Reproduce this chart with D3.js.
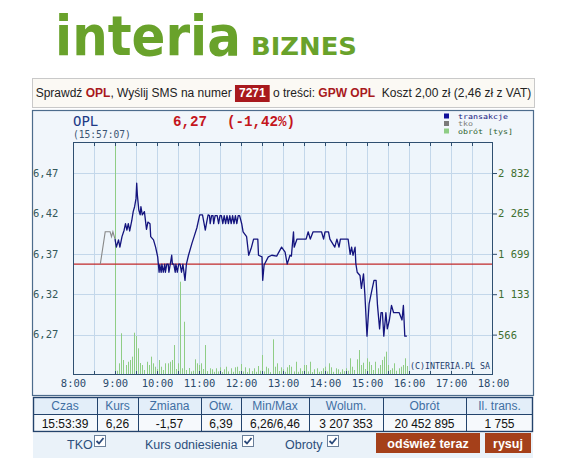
<!DOCTYPE html>
<html><head><meta charset="utf-8">
<script src="https://cdn.jsdelivr.net/npm/d3@7"></script>
<style>
body{margin:0;background:#fff;}
svg{display:block;}
</style>
</head><body>
<svg id="c" width="569" height="458"></svg>
<script>
// ---------- DATA ----------
const ticker = "OPL";
const lastTime = "(15:57:07)";
const lastPrice = "6,27";
const lastChange = "(-1,42%)";
const refPrice = 6.36;

const tkoTimes  = ["8:39","8:46","8:53","8:55","8:57","9:00"];
const tkoValues = [6.36, 6.40, 6.40, 6.394, 6.40, 6.391];

const priceTimes = ["9:00","9:02","9:05","9:07","9:10","9:13","9:15","9:17","9:19","9:21","9:24","9:26","9:28","9:30","9:31","9:32","9:34","9:36","9:37","9:39","9:42","9:45","9:47","9:50","9:51","9:55","9:58","10:01","10:03","10:04","10:06","10:07","10:09","10:11","10:12","10:14","10:16","10:17","10:19","10:21","10:22","10:24","10:26","10:27","10:29","10:31","10:33","10:35","10:37","10:40","10:42","10:45","10:50","10:53","10:57","11:01","11:05","11:09","11:11","11:13","11:15","11:16","11:18","11:20","11:21","11:23","11:26","11:28","11:30","11:32","11:34","11:36","11:38","11:40","11:42","11:44","11:46","11:48","11:50","11:52","11:54","11:56","11:58","12:01","12:03","12:08","12:11","12:15","12:18","12:24","12:25","12:30","12:31","12:33","12:39","12:44","12:51","12:58","13:03","13:06","13:10","13:12","13:15","13:16","13:20","13:33","13:36","13:39","13:43","13:55","13:58","14:00","14:05","14:07","14:14","14:17","14:20","14:22","14:33","14:36","14:38","14:40","14:43","14:44","14:46","14:50","14:52","14:55","14:57","15:00","15:03","15:07","15:10","15:13","15:15","15:18","15:20","15:22","15:24","15:27","15:29","15:32","15:35","15:38","15:46","15:50","15:52","15:54","15:57"];
const priceValues = [6.391,6.381,6.390,6.381,6.394,6.402,6.410,6.402,6.410,6.401,6.414,6.425,6.431,6.441,6.460,6.445,6.427,6.421,6.431,6.421,6.425,6.403,6.412,6.410,6.394,6.390,6.381,6.369,6.350,6.359,6.35,6.36,6.35,6.36,6.35,6.36,6.36,6.35,6.36,6.371,6.36,6.36,6.35,6.36,6.35,6.36,6.36,6.35,6.36,6.340,6.36,6.371,6.386,6.394,6.405,6.421,6.421,6.402,6.412,6.421,6.42,6.41,6.42,6.42,6.41,6.42,6.42,6.41,6.42,6.42,6.41,6.42,6.41,6.42,6.41,6.42,6.41,6.42,6.41,6.42,6.41,6.42,6.42,6.410,6.400,6.394,6.371,6.381,6.391,6.391,6.371,6.369,6.340,6.359,6.369,6.371,6.370,6.381,6.375,6.36,6.371,6.370,6.400,6.381,6.391,6.391,6.400,6.391,6.400,6.400,6.391,6.400,6.400,6.391,6.381,6.391,6.381,6.391,6.391,6.372,6.381,6.371,6.381,6.361,6.350,6.346,6.330,6.348,6.322,6.271,6.311,6.328,6.340,6.340,6.309,6.280,6.300,6.300,6.271,6.300,6.280,6.291,6.309,6.300,6.300,6.291,6.309,6.271,6.271];

// turnover [tys] per 3-minute slot from 9:00
const volStart = "9:00";
const volStepMin = 3;
const volValues = [3300,60,164,585,210,140,186,210,257,593,547,374,168,140,70,186,140,257,164,116,84,210,116,70,164,164,186,210,420,84,164,1308,94,747,70,98,50,60,220,164,140,164,84,420,55,94,80,45,94,50,108,40,80,116,50,94,45,108,116,55,154,50,108,40,94,55,94,45,126,60,280,50,116,94,40,500,116,164,55,108,80,45,108,140,116,50,186,45,94,55,140,140,50,186,40,80,94,45,55,94,116,50,164,108,45,94,80,40,80,55,94,60,234,116,70,220,350,140,172,84,234,186,140,70,186,94,140,210,257,327,140,70,94,164,60,94,116,140,234,126];

const priceTicks = [6.273, 6.323, 6.373, 6.423, 6.473];
const volTicks = [566, 1133, 1699, 2265, 2832];
const timeDomain = ["8:00", "18:00"];
const priceDomain = [6.223, 6.511];
const volDomain = [0, 3267];

const legendLabels = ["transakcje", "tko", "obrót [tys]"];
const tableHeaders = ["Czas","Kurs","Zmiana","Otw.","Min/Max","Wolum.","Obrót","Il. trans."];
const tableValues  = ["15:53:39","6,26","-1,57","6,39","6,26/6,46","3 207 353","20 452 895","1 755"];
const controlLabels = ["TKO","Kurs odniesienia","Obroty"];
const buttonLabels = ["odśwież teraz","rysuj"];

// ---------- DRAW ----------
const svg = d3.select("#c");
const parse = d3.timeParse("%H:%M");
const sans = "'Liberation Sans', Arial, sans-serif";
const mono = "'DejaVu Sans Mono', monospace";

// Logo (fit width via font size, stretch height via transform)
function logoText(str, x0, y0, targetW, targetSize){
  const t = svg.append("text").attr("font-family","'DejaVu Sans', sans-serif").attr("font-weight","bold")
    .attr("font-size",targetSize).attr("fill","#69a22b").text(str);
  const w = t.node().getComputedTextLength();
  const fs = targetSize*targetW/w;
  t.attr("font-size",fs).attr("transform",`translate(${x0},${y0}) scale(1,${targetSize/fs})`);
}
logoText("interia", 55, 55, 186, 56);
logoText("BIZNES", 251, 55, 106, 25);

// SMS bar
svg.append("rect").attr("x",32.5).attr("y",78.5).attr("width",502).attr("height",29)
  .attr("fill","#fbf9f4").attr("stroke","#c9c9c9");
const smsParts = [
  {t:"Sprawdź ", c:"#222", b:false},
  {t:"OPL", c:"#a8191d", b:true},
  {t:", Wyślij SMS na numer ", c:"#222", b:false},
  {t:"7271", c:"#fff", b:true, box:true},
  {t:" o treści: ", c:"#222", b:false},
  {t:"GPW OPL", c:"#a8191d", b:true},
  {t:"  Koszt 2,00 zł (2,46 zł z VAT)", c:"#222", b:false}
];
const smsG = svg.append("g");
let sx = 0;
const smsNodes = smsParts.map(p => {
  const pad = p.box ? 4 : 0;
  const t = smsG.append("text").attr("y",97).attr("font-family",sans).attr("font-size",12)
    .attr("font-weight", p.b ? "bold" : "normal").attr("fill",p.c)
    .attr("xml:space","preserve").style("white-space","pre").text(p.t);
  const w = t.node().getComputedTextLength();
  t.attr("x", sx + pad);
  const r = {x:sx, w:w+2*pad, box:p.box};
  sx += w + 2*pad;
  return r;
});
smsG.attr("transform",`translate(${283.5 - sx/2},0)`);
smsNodes.filter(n=>n.box).forEach(n=>{
  smsG.insert("rect","text").attr("x",n.x).attr("y",85).attr("width",n.w).attr("height",17).attr("fill","#a8191d");
});

// Chart panel
svg.append("rect").attr("x",32.5).attr("y",110.5).attr("width",501).attr("height",285)
  .attr("fill","#f1f6fb").attr("stroke","#4d6c8c").attr("stroke-width",1.2);

const x = d3.scaleTime().domain(timeDomain.map(parse)).range([73,493]);
const yP = d3.scaleLinear().domain(priceDomain).range([375,142]);
const yV = d3.scaleLinear().domain(volDomain).range([375,142]);

const plot = svg.append("g");
plot.append("rect").attr("x",73).attr("y",142).attr("width",420).attr("height",233).attr("fill","#eef5fb");

const halfHours = d3.timeMinute.every(30).range(parse("8:00"), d3.timeMinute.offset(parse("18:00"),1));
plot.append("g").selectAll("line").data(halfHours.slice(1,-1)).join("line")
  .attr("x1",d=>x(d)+0.5).attr("x2",d=>x(d)+0.5).attr("y1",142).attr("y2",375)
  .attr("stroke","#c3d7ea").attr("stroke-width",1);
plot.append("g").selectAll("line").data(volTicks).join("line")
  .attr("x1",73).attr("x2",493).attr("y1",d=>Math.round(yV(d))+0.5).attr("y2",d=>Math.round(yV(d))+0.5)
  .attr("stroke","#c3d7ea").attr("stroke-width",1);

svg.append("clipPath").attr("id","clip").append("rect").attr("x",73).attr("y",142).attr("width",420).attr("height",233);
const inner = plot.append("g").attr("clip-path","url(#clip)");

// volume bars
const volData = volValues.map((v,i)=>({t:d3.timeMinute.offset(parse(volStart), i*volStepMin), v}));
inner.append("g").selectAll("line").data(volData).join("line")
  .attr("x1",d=>Math.round(x(d.t))+0.5).attr("x2",d=>Math.round(x(d.t))+0.5)
  .attr("y1",yV(0)-1).attr("y2",d=>yV(d.v))
  .attr("stroke","#8fcd85").attr("stroke-width",1);

// reference line
inner.append("line").attr("x1",73).attr("x2",493).attr("y1",yP(refPrice)).attr("y2",yP(refPrice))
  .attr("stroke","#c0282a").attr("stroke-width",1.3);

const line = d3.line().x(d=>x(d.t)).y(d=>yP(d.v));
inner.append("path").datum(tkoTimes.map((t,i)=>({t:parse(t), v:tkoValues[i]})))
  .attr("d",line).attr("fill","none").attr("stroke","#888").attr("stroke-width",1.1);
inner.append("path").datum(priceTimes.map((t,i)=>({t:parse(t), v:priceValues[i]})))
  .attr("d",line).attr("fill","none").attr("stroke","#14147e").attr("stroke-width",1.3)
  .attr("stroke-linejoin","round");

// plot frame + ticks
plot.append("rect").attr("x",73.5).attr("y",142.5).attr("width",419).attr("height",232)
  .attr("fill","none").attr("stroke","#2f4f70").attr("stroke-width",1);
plot.append("g").selectAll("line").data(halfHours.slice(1,-1)).join("line")
  .attr("x1",d=>x(d)+0.5).attr("x2",d=>x(d)+0.5).attr("y1",142).attr("y2",146)
  .attr("stroke","#2f4f70");
plot.append("g").selectAll("line").data(halfHours.slice(1,-1)).join("line")
  .attr("x1",d=>x(d)+0.5).attr("x2",d=>x(d)+0.5).attr("y1",371).attr("y2",375)
  .attr("stroke","#2f4f70");

// Axes
const xAxis = d3.axisBottom(x).ticks(d3.timeHour.every(1)).tickFormat(d3.timeFormat("%-H:%M")).tickSize(0).tickPadding(4);
const gx = svg.append("g").attr("transform","translate(0,376)").call(xAxis);
gx.select(".domain").remove();
gx.selectAll("text").attr("font-family",mono).attr("font-size",10.5).attr("fill","#2c4b6b");

const pAxis = d3.axisLeft(yP).tickValues(priceTicks).tickFormat(d=>d3.format(".2f")(d).replace(".",",")).tickSize(0);
const gl = svg.append("g").attr("transform","translate(33,0)").call(pAxis);
gl.select(".domain").remove();
gl.selectAll("text").attr("x",0).attr("text-anchor","start").attr("font-family",mono).attr("font-size",10.5).attr("fill","#35585a");

const vAxis = d3.axisRight(yV).tickValues(volTicks).tickFormat(d=>d3.format(",")(d).replace(/,/g," ")).tickSize(4).tickPadding(1);
const gr = svg.append("g").attr("transform","translate(493,0)").call(vAxis);
gr.select(".domain").remove();
gr.selectAll("line").attr("stroke","#2f4f70");
gr.selectAll("text").attr("font-family",mono).attr("font-size",10.5).attr("fill","#3f6f30");

// header
svg.append("text").attr("x",73).attr("y",126).attr("font-family",mono).attr("font-size",14).attr("fill","#1d3a86").text(ticker);
svg.append("text").attr("x",73).attr("y",137.5).attr("font-family",mono).attr("font-size",9.6).attr("fill","#3a5472").text(lastTime);
svg.append("text").attr("x",173).attr("y",126).attr("font-family","'Liberation Mono', monospace").attr("font-size",14.2).attr("font-weight","bold").attr("fill","#c4161c").text(lastPrice);
svg.append("text").attr("x",227).attr("y",126).attr("font-family","'Liberation Mono', monospace").attr("font-size",14.2).attr("font-weight","bold").attr("fill","#c4161c").text(lastChange);

// legend
const legColors = ["#10109a","#7a7a7a","#8fcd85"];
const legText = ["#14147e","#7a7a7a","#2e5f2e"];
const legW = [50, 15, 55];
legendLabels.forEach((l,i)=>{
  svg.append("rect").attr("x",444).attr("y",113.5+i*7.5).attr("width",5).attr("height",5).attr("fill",legColors[i]);
  svg.append("text").attr("x",458).attr("y",118.5+i*7.5).attr("font-family",mono).attr("font-size",6.8)
    .attr("textLength",legW[i]).attr("lengthAdjust","spacingAndGlyphs").attr("fill",legText[i]).text(l);
});
svg.append("text").attr("x",410).attr("y",369).attr("font-family",mono).attr("font-size",8.3).attr("fill","#1d3a6a").text("(C)INTERIA.PL SA");

// Table
const colX = [33,97,138,201,241,309,383,466,533];
const tg = svg.append("g");
tg.append("rect").attr("x",33).attr("y",397).attr("width",500).attr("height",17).attr("fill","#e3eef9");
tg.append("rect").attr("x",33).attr("y",414).attr("width",500).attr("height",18).attr("fill","#f6f9fc");
tg.append("rect").attr("x",33.5).attr("y",397.5).attr("width",499).attr("height",34).attr("fill","none").attr("stroke","#23436c").attr("stroke-width",1.4);
tg.append("line").attr("x1",33).attr("x2",533).attr("y1",414.5).attr("y2",414.5).attr("stroke","#23436c");
tg.selectAll("line.v").data(colX.slice(1,-1)).join("line").attr("class","v")
  .attr("x1",d=>d+0.5).attr("x2",d=>d+0.5).attr("y1",397).attr("y2",432).attr("stroke","#23436c");
tableHeaders.forEach((h,i)=>{
  tg.append("text").attr("x",(colX[i]+colX[i+1])/2).attr("y",410).attr("text-anchor","middle")
    .attr("font-family",sans).attr("font-size",12).attr("fill","#3f6ea3").text(h);
  tg.append("text").attr("x",(colX[i]+colX[i+1])/2).attr("y",427.5).attr("text-anchor","middle")
    .attr("font-family",sans).attr("font-size",12).attr("fill","#111").text(tableValues[i]);
});

// Controls row
svg.append("rect").attr("x",33).attr("y",433).attr("width",500).attr("height",25).attr("fill","#eaf2f9");
const ctrl = [{x:67, cb:94},{x:145, cb:242},{x:285, cb:327}];
controlLabels.forEach((l,i)=>{
  svg.append("text").attr("x",ctrl[i].x).attr("y",449).attr("font-family",sans).attr("font-size",12.5).attr("fill","#2d4f7c").text(l);
  const cb = svg.append("g").attr("transform",`translate(${ctrl[i].cb},435)`);
  cb.append("rect").attr("x",0.5).attr("y",0.5).attr("width",11).attr("height",11).attr("fill","#fff").attr("stroke","#6a7f99");
  cb.append("path").attr("d","M2.5,6 L5,8.5 L9.5,3").attr("fill","none").attr("stroke","#2b4a7a").attr("stroke-width",1.8);
});
const btns = [{x:376,w:104},{x:485,w:46}];
buttonLabels.forEach((b,i)=>{
  svg.append("rect").attr("x",btns[i].x).attr("y",433).attr("width",btns[i].w).attr("height",20).attr("fill","#a5401a");
  svg.append("text").attr("x",btns[i].x+btns[i].w/2).attr("y",447.5).attr("text-anchor","middle")
    .attr("font-family",sans).attr("font-size",12.5).attr("font-weight","bold").attr("fill","#fff").text(b);
});
</script>
</body></html>
